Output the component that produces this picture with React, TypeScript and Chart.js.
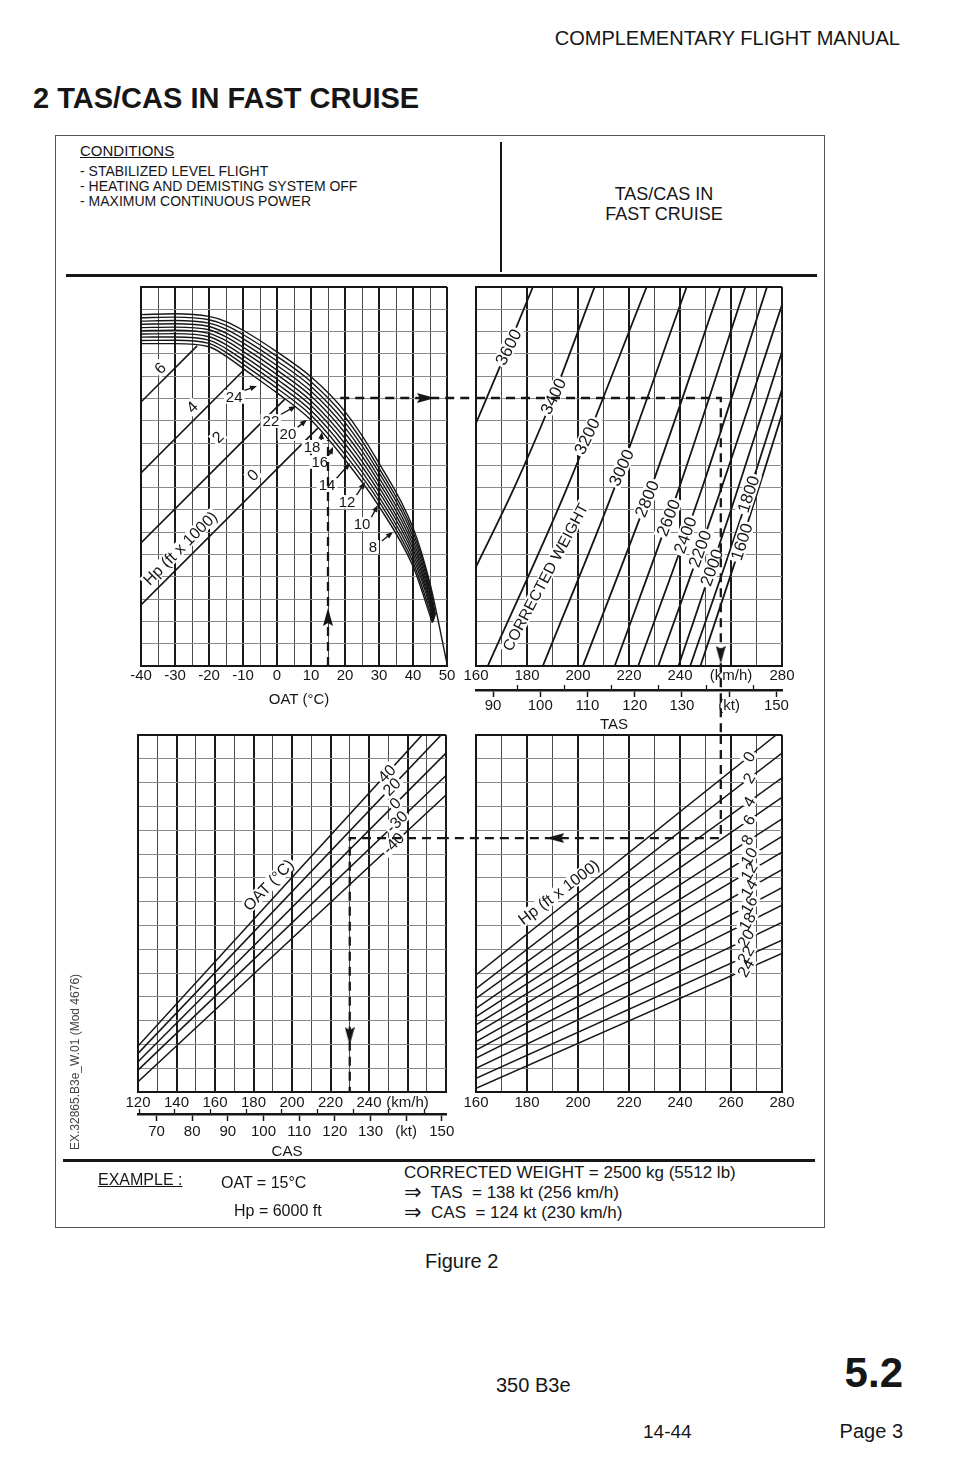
import React, { useEffect, useRef } from "react";
import { Chart, registerables } from "chart.js";

Chart.register(...registerables);

const FONT = "'Liberation Sans', Arial, Helvetica, sans-serif";
const INK = "#161616";
const GRID_MAJOR = "#1a1a1a";
const GRID_MINOR = "#4a4a4a";
const GRID_H = "#8a8a8a";
const KMH_PER_KT = 1.852;

type Pt = [number, number];

// ---------------- tick values ----------------
const OAT_TICKS = [-40, -35, -30, -25, -20, -15, -10, -5, 0, 5, 10, 15, 20, 25, 30, 35, 40, 45, 50];
const UPPER_LEVELS = [0, 1, 2, 3, 4, 5, 6, 7, 8, 9, 10, 11, 12, 13, 14, 15, 16, 17];
const LOWER_LEVELS = [0, 1, 2, 3, 4, 5, 6, 7, 8, 9, 10, 11, 12, 13, 14, 15];
const TAS_KMH_TICKS = [160, 170, 180, 190, 200, 210, 220, 230, 240, 250, 260, 270, 280];
const CAS_KMH_TICKS = [120, 130, 140, 150, 160, 170, 180, 190, 200, 210, 220, 230, 240, 250, 260, 270, 280];
const TAS_KT_TICKS = [90, 95, 100, 105, 110, 115, 120, 125, 130, 135, 140, 145, 150];
const CAS_KT_TICKS = [65, 70, 75, 80, 85, 90, 95, 100, 105, 110, 115, 120, 125, 130, 135, 140, 145, 150];
const KMH_UNIT_TICK = 260;
const KT_UNIT_TICK = 140;

// ---------------- top-left: OAT / Hp power curves ----------------
const HP_BUNDLE: Pt[][] = [
  [[-40, 15.76], [-30, 15.8], [-20, 15.68], [-15, 15.45], [-10, 15.06], [0, 14.09], [10, 12.97], [20, 11.41], [30, 9.1], [40, 6.2], [45, 3.7], [50, 0.1]],
  [[-40, 15.62], [-30, 15.65], [-20, 15.53], [-15, 15.28], [-10, 14.87], [0, 13.89], [10, 12.75], [20, 11.17], [30, 8.88], [40, 6.01], [45, 3.55], [46.6, 2.3]],
  [[-40, 15.47], [-30, 15.5], [-20, 15.38], [-15, 15.11], [-10, 14.68], [0, 13.68], [10, 12.54], [20, 10.93], [30, 8.67], [40, 5.82], [45, 3.4], [46.5, 2.25]],
  [[-40, 15.33], [-30, 15.35], [-20, 15.23], [-15, 14.93], [-10, 14.49], [0, 13.48], [10, 12.32], [20, 10.69], [30, 8.45], [40, 5.62], [45, 3.25], [46.4, 2.2]],
  [[-40, 15.18], [-30, 15.2], [-20, 15.08], [-15, 14.76], [-10, 14.3], [0, 13.27], [10, 12.11], [20, 10.45], [30, 8.24], [40, 5.43], [45, 3.1], [46.3, 2.15]],
  [[-40, 15.04], [-30, 15.06], [-20, 14.92], [-15, 14.59], [-10, 14.11], [0, 13.07], [10, 11.89], [20, 10.21], [30, 8.02], [40, 5.24], [45, 2.95], [46.2, 2.1]],
  [[-40, 14.89], [-30, 14.91], [-20, 14.77], [-15, 14.42], [-10, 13.92], [0, 12.86], [10, 11.68], [20, 9.97], [30, 7.81], [40, 5.05], [45, 2.8], [46.1, 2.05]],
  [[-40, 14.75], [-30, 14.76], [-20, 14.62], [-15, 14.24], [-10, 13.73], [0, 12.66], [10, 11.46], [20, 9.73], [30, 7.59], [40, 4.86], [45, 2.65], [46.0, 2.0]],
  [[-40, 14.6], [-30, 14.61], [-20, 14.47], [-15, 14.07], [-10, 13.54], [0, 12.46], [10, 11.25], [20, 9.49], [30, 7.38], [40, 4.66], [45, 2.45], [45.9, 1.97]],
  [[-40, 14.46], [-30, 14.46], [-20, 14.32], [-15, 13.9], [-10, 13.35], [0, 12.25], [10, 11.03], [20, 9.25], [30, 7.16], [40, 4.47], [45.7, 1.94]],
];
const HP_LOW_LINES: Pt[][] = [
  [[-40, 2.74], [12.0, 10.67]],
  [[-40, 5.52], [2.3, 11.97]],
  [[-40, 8.66], [-9.6, 13.3]],
  [[-40, 11.84], [-23.5, 14.36]],
];
const HP_BUNDLE_TIPS: Pt[] = [
  [-5.9, 12.56], [5.6, 11.66], [8.8, 11.04], [13.2, 10.5], [16.5, 9.83], [21.5, 9.11], [25.9, 8.25], [29.7, 7.22], [34.1, 6.01],
];
const HP_BUNDLE_NAMES = ["24", "22", "20", "18", "16", "14", "12", "10", "8"];
const HP_BUNDLE_LABEL_AT: Pt[] = [
  [-12.6, 12.07], [-1.8, 10.99], [3.2, 10.41], [10.3, 9.83], [12.6, 9.15], [14.7, 8.12], [20.6, 7.36], [25.0, 6.37], [28.2, 5.34],
];

// ---------------- top-right: corrected weight ----------------
const WEIGHT_NAMES = ["3600", "3400", "3200", "3000", "2800", "2600", "2400", "2200", "2000", "1800", "1600"];
const WEIGHT_CURVES: Pt[][] = [
  [[160, 10.89], [172.4, 14.25], [182.3, 17]],
  [[160, 4.45], [175, 8.0], [190, 12.0], [206.5, 17]],
  [[164.6, 0], [195, 7.8], [226.9, 17]],
  [[186.2, 0], [214, 7.9], [242.6, 17]],
  [[201.9, 0], [229, 8.1], [255.8, 17]],
  [[214.4, 0], [240, 8.1], [265.6, 17]],
  [[223.6, 0], [249, 8.1], [274.1, 17]],
  [[231.5, 0], [256, 7.9], [280, 16.2]],
  [[239.4, 0], [260, 7.0], [280, 14.1]],
  [[244, 0], [262, 6.0], [280, 12.4]],
  [[248, 0], [264, 5.5], [280, 11.3]],
];
const WEIGHT_LABEL_AT: Pt[] = [
  [172.7, 14.3], [190.3, 12.1], [203.5, 10.3], [217, 8.9], [227, 7.5], [235.4, 6.65], [242, 5.87], [247.8, 5.26], [252.4, 4.42], [266.8, 7.71], [264.2, 5.57],
];
const WEIGHT_LABEL_ROT = [-63, -64, -64, -66, -67, -68, -70, -70, -70, -72, -72];

// ---------------- bottom-right: TAS / Hp ----------------
const HP_TAS_NAMES = ["0", "2", "4", "6", "8", "10", "12", "14", "16", "18", "20", "22", "24"];
const HP_TAS_LINES: Pt[][] = [
  [[160, 4.92], [277.7, 15]],
  [[160, 4.34], [280, 14.24]],
  [[160, 3.93], [280, 13.2]],
  [[160, 3.51], [280, 12.38]],
  [[160, 3.17], [280, 11.48]],
  [[160, 2.82], [280, 10.74]],
  [[160, 2.47], [280, 10.08]],
  [[160, 2.12], [280, 9.34]],
  [[160, 1.76], [280, 8.59]],
  [[160, 1.42], [280, 7.85]],
  [[160, 0.99], [280, 7.12]],
  [[160, 0.57], [280, 6.38]],
  [[160, 0.15], [280, 5.82]],
];
const HP_TAS_LABEL_AT: Pt[] = [
  [267.1, 14.09], [267.1, 13.18], [267.1, 12.2], [267.1, 11.43], [266.4, 10.59], [267.1, 9.89], [267.1, 9.26],
  [267.1, 8.56], [267.1, 7.86], [266.4, 7.16], [265.8, 6.46], [265.8, 5.76], [265.8, 5.21],
];

// ---------------- bottom-left: CAS / OAT ----------------
const OAT_CAS_NAMES = ["40", "20", "0", "-30", "-40"];
const OAT_CAS_LINES: Pt[][] = [
  [[120, 1.93], [267.6, 15]],
  [[120, 1.62], [277.5, 15]],
  [[120, 1.27], [280, 14.24]],
  [[120, 0.92], [280, 13.3]],
  [[120, 0.43], [280, 12.48]],
];
const OAT_CAS_LABEL_AT: Pt[] = [[249.2, 13.39], [251.8, 12.83], [253.5, 12.13], [254.4, 11.36], [252.6, 10.45]];

// ---------------- worked example ----------------
const EX_OAT = 15;
const EX_TAS_KMH = 256;
const EX_CAS_KMH = 230;
const EX_UPPER_LEVEL = 12.02;
const EX_UPPER_START = 10.14;
const EX_UPPER_EXIT = 18.6;
const EX_LOWER_LEVEL = 10.67;

// ---------------- helpers ----------------
type Label = { t: string; at: Pt; r?: number; s?: number };
type Head = { at: Pt; rot: number };
type Curve = { pts: Pt[]; w?: number; smooth?: boolean };
type Rect = { left: number; top: number; width: number; height: number };
type Area = { left: number; top: number; right: number; bottom: number };
type KtAxis = { ticks: number[]; h: number; pad: number };
type PanelSpec = {
  canvas: Rect;
  area: Area;
  xMin: number; xMax: number; xTicks: number[]; xLabel: (v: number) => string; xMajor: (v: number) => boolean;
  xH: number; xPad: number;
  yMax: number; yTicks: number[];
  kt?: KtAxis;
  curves: Curve[];
  dashed: Pt[][];
  heads: Head[];
  labels: Label[];
  pointers?: { from: Pt; tip: Pt }[];
};

const toXY = (p: Pt[]) => p.map(([x, y]) => ({ x, y }));

function makeArrowHead(): HTMLCanvasElement {
  const c = document.createElement("canvas");
  c.width = 10;
  c.height = 18;
  const g = c.getContext("2d")!;
  g.fillStyle = INK;
  g.beginPath();
  g.moveTo(5, 0);
  g.lineTo(10, 18);
  g.lineTo(5, 15);
  g.lineTo(0, 18);
  g.closePath();
  g.fill();
  return c;
}

function drawOverlay(chart: any, spec: PanelSpec) {
  const ctx: CanvasRenderingContext2D = chart.ctx;
  const xs = chart.scales.x;
  const ys = chart.scales.y;
  ctx.save();
  if (spec.pointers) {
    ctx.strokeStyle = INK;
    ctx.fillStyle = INK;
    ctx.lineWidth = 1.4;
    for (const p of spec.pointers) {
      const fx = xs.getPixelForValue(p.from[0]) + 9;
      const fy = ys.getPixelForValue(p.from[1]) - 6;
      const tx = xs.getPixelForValue(p.tip[0]);
      const ty = ys.getPixelForValue(p.tip[1]);
      const ang = Math.atan2(ty - fy, tx - fx);
      ctx.beginPath();
      ctx.moveTo(fx, fy);
      ctx.lineTo(tx - Math.cos(ang) * 4, ty - Math.sin(ang) * 4);
      ctx.stroke();
      ctx.beginPath();
      ctx.moveTo(tx, ty);
      ctx.lineTo(tx - Math.cos(ang) * 7 + Math.sin(ang) * 2.8, ty - Math.sin(ang) * 7 - Math.cos(ang) * 2.8);
      ctx.lineTo(tx - Math.cos(ang) * 7 - Math.sin(ang) * 2.8, ty - Math.sin(ang) * 7 + Math.cos(ang) * 2.8);
      ctx.closePath();
      ctx.fill();
    }
  }
  for (const pass of [0, 1]) {
    for (const l of spec.labels) {
      const size = l.s ?? 15;
      ctx.save();
      ctx.translate(xs.getPixelForValue(l.at[0]), ys.getPixelForValue(l.at[1]));
      ctx.rotate(((l.r ?? 0) * Math.PI) / 180);
      ctx.font = `${size}px ${FONT}`;
      if (pass === 0) {
        const w = ctx.measureText(l.t).width;
        const h = size * 0.78;
        ctx.fillStyle = "#ffffff";
        ctx.fillRect(-w / 2 - 2, -h / 2 - 1, w + 4, h + 2);
      } else {
        ctx.fillStyle = INK;
        ctx.textAlign = "center";
        ctx.textBaseline = "middle";
        ctx.fillText(l.t, 0, 1);
      }
      ctx.restore();
    }
  }
  ctx.restore();
}

function drawMinorKt(chart: any, spec: PanelSpec) {
  const kt = chart.scales.kt;
  if (!kt || !spec.kt) return;
  const ctx: CanvasRenderingContext2D = chart.ctx;
  ctx.save();
  ctx.strokeStyle = INK;
  ctx.lineWidth = 1.3;
  for (const v of spec.kt.ticks) {
    if (v % 10 === 0) continue;
    const x = Math.round(kt.getPixelForValue(v)) + 0.5;
    ctx.beginPath();
    ctx.moveTo(x, kt.top);
    ctx.lineTo(x, kt.top - 5);
    ctx.stroke();
  }
  ctx.restore();
}

function buildConfig(spec: PanelSpec): any {
  const head = makeArrowHead();
  const c = spec.canvas;
  const a = spec.area;
  const bottomAxes = spec.xH + (spec.kt ? spec.kt.h : 0);
  const padding = {
    left: a.left - c.left,
    top: a.top - c.top,
    right: c.left + c.width - a.right,
    bottom: c.top + c.height - a.bottom - bottomAxes,
  };
  const datasets: any[] = [];
  for (const path of spec.dashed) {
    datasets.push({ data: toXY(path), borderColor: INK, borderWidth: 2.3, borderDash: [9, 6], pointRadius: 0, tension: 0, clip: false, overlay: true });
  }
  if (spec.heads.length) {
    datasets.push({
      data: spec.heads.map((h) => ({ x: h.at[0], y: h.at[1] })),
      showLine: false,
      pointStyle: head,
      pointRotation: spec.heads.map((h) => h.rot),
      pointRadius: 6,
      clip: false,
      overlay: true,
    });
  }
  for (const cv of spec.curves) {
    datasets.push({
      data: toXY(cv.pts),
      borderColor: INK,
      borderWidth: cv.w ?? 1.6,
      pointRadius: 0,
      tension: 0,
      cubicInterpolationMode: cv.smooth ? "monotone" : "default",
    });
  }
  const tickFont = { family: FONT, size: 15 };
  const scales: any = {
    x: {
      type: "linear",
      position: "bottom",
      weight: 0,
      min: spec.xMin,
      max: spec.xMax,
      afterBuildTicks: (s: any) => {
        s.ticks = spec.xTicks.map((v) => ({ value: v }));
      },
      afterFit: (s: any) => {
        s.height = spec.xH;
      },
      ticks: {
        autoSkip: false,
        maxRotation: 0,
        minRotation: 0,
        padding: spec.xPad,
        font: tickFont,
        color: INK,
        callback: (v: number) => spec.xLabel(v),
      },
      grid: {
        drawTicks: false,
        color: (ctx: any) => (ctx.tick && spec.xMajor(ctx.tick.value) ? GRID_MAJOR : GRID_MINOR),
        lineWidth: (ctx: any) => (ctx.tick && spec.xMajor(ctx.tick.value) ? 2 : 1),
      },
      border: { display: true, color: INK, width: 2 },
    },
    y: {
      type: "linear",
      position: "left",
      min: 0,
      max: spec.yMax,
      afterBuildTicks: (s: any) => {
        s.ticks = spec.yTicks.map((v) => ({ value: v }));
      },
      afterFit: (s: any) => {
        s.width = 0;
      },
      ticks: { display: false },
      grid: {
        drawTicks: false,
        color: (ctx: any) => (ctx.tick && ctx.tick.value === spec.yMax ? INK : GRID_H),
        lineWidth: (ctx: any) => (ctx.tick && ctx.tick.value === spec.yMax ? 2 : 1),
      },
      border: { display: true, color: INK, width: 2 },
    },
  };
  if (spec.kt) {
    const kt = spec.kt;
    scales.kt = {
      type: "linear",
      position: "bottom",
      weight: 1,
      min: spec.xMin / KMH_PER_KT,
      max: spec.xMax / KMH_PER_KT,
      afterBuildTicks: (s: any) => {
        s.ticks = kt.ticks.map((v) => ({ value: v }));
      },
      afterFit: (s: any) => {
        s.height = kt.h;
      },
      ticks: {
        autoSkip: false,
        maxRotation: 0,
        minRotation: 0,
        padding: kt.pad,
        font: tickFont,
        color: INK,
        callback: (v: number) => (v === KT_UNIT_TICK ? "(kt)" : v % 10 === 0 ? String(v) : ""),
      },
      grid: {
        drawOnChartArea: false,
        drawTicks: true,
        tickLength: 7,
        tickWidth: 1.5,
        tickColor: (ctx: any) => (ctx.tick && ctx.tick.value % 10 === 0 ? INK : "rgba(0,0,0,0)"),
      },
      border: { display: true, color: INK, width: 2.5 },
    };
  }
  let done = false;
  const plugin = {
    id: "panelOverlay",
    beforeDatasetsDraw() {
      done = false;
    },
    beforeDatasetDraw(chart: any, args: any) {
      const ds = chart.data.datasets[args.index];
      if (ds && ds.overlay && !done) {
        drawOverlay(chart, spec);
        done = true;
      }
    },
    afterDatasetsDraw(chart: any) {
      if (!done) {
        drawOverlay(chart, spec);
        done = true;
      }
      drawMinorKt(chart, spec);
    },
  };
  return {
    type: "line",
    data: { datasets },
    options: {
      responsive: false,
      maintainAspectRatio: false,
      animation: false,
      events: [],
      layout: { padding },
      plugins: { legend: { display: false }, tooltip: { enabled: false }, title: { display: false } },
      scales,
    },
    plugins: [plugin],
  };
}

// ---------------- panels ----------------
const TL: PanelSpec = {
  canvas: { left: 95, top: 268, width: 390, height: 452 },
  area: { left: 141, top: 287, right: 447, bottom: 666 },
  xMin: -40, xMax: 50, xTicks: OAT_TICKS,
  xLabel: (v) => (v % 10 === 0 ? String(v) : ""),
  xMajor: (v) => v % 10 === 0,
  xH: 30, xPad: 1,
  yMax: 17, yTicks: UPPER_LEVELS,
  curves: [
    ...HP_BUNDLE.map((p) => ({ pts: p, w: 1.4, smooth: true })),
    ...HP_LOW_LINES.map((p) => ({ pts: p, w: 1.6 })),
  ],
  dashed: [
    [[EX_OAT, 0], [EX_OAT, EX_UPPER_START]],
    [[EX_UPPER_EXIT, EX_UPPER_LEVEL], [58.5, EX_UPPER_LEVEL]],
  ],
  heads: [
    { at: [EX_OAT, 2.2], rot: 0 },
    { at: [43.8, EX_UPPER_LEVEL], rot: 90 },
  ],
  labels: [
    { t: "6", at: [-34.4, 13.37], r: -45, s: 16 },
    { t: "4", at: [-25, 11.62], r: -45, s: 16 },
    { t: "2", at: [-17.4, 10.27], r: -45, s: 16 },
    { t: "0", at: [-7.1, 8.57], r: -45, s: 16 },
    { t: "Hp (ft x 1000)", at: [-28.5, 5.29], r: -45, s: 16 },
    ...HP_BUNDLE_NAMES.map((t, i) => ({ t, at: HP_BUNDLE_LABEL_AT[i], s: 15 })),
  ],
  pointers: HP_BUNDLE_TIPS.map((tip, i) => ({ from: HP_BUNDLE_LABEL_AT[i], tip })),
};

const TR: PanelSpec = {
  canvas: { left: 455, top: 268, width: 360, height: 472 },
  area: { left: 476, top: 287, right: 782, bottom: 666 },
  xMin: 160, xMax: 280, xTicks: TAS_KMH_TICKS,
  xLabel: (v) => (v === KMH_UNIT_TICK ? "(km/h)" : v % 20 === 0 ? String(v) : ""),
  xMajor: (v) => v % 20 === 0,
  xH: 24, xPad: 1,
  yMax: 17, yTicks: UPPER_LEVELS,
  kt: { ticks: TAS_KT_TICKS, h: 30, pad: 0 },
  curves: WEIGHT_CURVES.map((p) => ({ pts: p, w: 1.8, smooth: true })),
  dashed: [[[160, EX_UPPER_LEVEL], [EX_TAS_KMH, EX_UPPER_LEVEL], [EX_TAS_KMH, -3.1]]],
  heads: [{ at: [EX_TAS_KMH, 0.5], rot: 180 }],
  labels: [
    ...WEIGHT_NAMES.map((t, i) => ({ t, at: WEIGHT_LABEL_AT[i], r: WEIGHT_LABEL_ROT[i], s: 17 })),
    { t: "CORRECTED WEIGHT", at: [187.1, 3.99], r: -62, s: 15.5 },
  ],
};

const BR: PanelSpec = {
  canvas: { left: 440, top: 718, width: 375, height: 412 },
  area: { left: 476, top: 735, right: 782, bottom: 1092 },
  xMin: 160, xMax: 280, xTicks: TAS_KMH_TICKS,
  xLabel: (v) => (v % 20 === 0 ? String(v) : ""),
  xMajor: (v) => v % 20 === 0,
  xH: 26, xPad: 2,
  yMax: 15, yTicks: LOWER_LEVELS,
  curves: HP_TAS_LINES.map((p) => ({ pts: p, w: 1.5 })),
  dashed: [[[EX_TAS_KMH, 15], [EX_TAS_KMH, EX_LOWER_LEVEL], [148.2, EX_LOWER_LEVEL]]],
  heads: [{ at: [191.1, EX_LOWER_LEVEL], rot: 270 }],
  labels: [
    ...HP_TAS_NAMES.map((t, i) => ({ t, at: HP_TAS_LABEL_AT[i], r: -60, s: 16 })),
    { t: "Hp (ft x 1000)", at: [192.4, 8.4], r: -37, s: 16 },
  ],
};

const BL: PanelSpec = {
  canvas: { left: 95, top: 718, width: 390, height: 432 },
  area: { left: 138, top: 735, right: 446, bottom: 1092 },
  xMin: 120, xMax: 280, xTicks: CAS_KMH_TICKS,
  xLabel: (v) => (v === KMH_UNIT_TICK ? "(km/h)" : v === 280 ? "" : v % 20 === 0 ? String(v) : ""),
  xMajor: (v) => v % 20 === 0,
  xH: 22, xPad: 2,
  yMax: 15, yTicks: LOWER_LEVELS,
  kt: { ticks: CAS_KT_TICKS, h: 30, pad: 2 },
  curves: OAT_CAS_LINES.map((p) => ({ pts: p, w: 1.6 })),
  dashed: [[[280, EX_LOWER_LEVEL], [EX_CAS_KMH, EX_LOWER_LEVEL], [EX_CAS_KMH, 0]]],
  heads: [{ at: [EX_CAS_KMH, 2.35], rot: 180 }],
  labels: [
    ...OAT_CAS_NAMES.map((t, i) => ({ t, at: OAT_CAS_LABEL_AT[i], r: -45, s: 16 })),
    { t: "OAT (°C)", at: [187.7, 8.7], r: -46, s: 16 },
  ],
};

const PANELS = [TL, TR, BL, BR];

function Panel({ spec }: { spec: PanelSpec }) {
  const ref = useRef<HTMLCanvasElement>(null);
  useEffect(() => {
    const chart = new Chart(ref.current as HTMLCanvasElement, buildConfig(spec));
    return () => chart.destroy();
  }, [spec]);
  const { left, top, width, height } = spec.canvas;
  return (
    <canvas
      ref={ref}
      width={width}
      height={height}
      style={{ position: "absolute", left, top, width, height }}
    />
  );
}

function Txt(props: {
  x: number; y: number; size: number; children: React.ReactNode;
  bold?: boolean; align?: "left" | "right" | "center"; underline?: boolean; pre?: boolean;
}) {
  const { x, y, size, children, bold, align = "left", underline, pre } = props;
  const style: any = {
    position: "absolute",
    top: y - 0.49 * size,
    fontSize: size,
    lineHeight: `${size}px`,
    fontWeight: bold ? 700 : 400,
    whiteSpace: pre ? "pre" : "nowrap",
    textDecoration: underline ? "underline" : "none",
  };
  if (align === "left") style.left = x;
  else if (align === "right") style.right = 968 - x;
  else {
    style.left = x;
    style.transform = "translateX(-50%)";
  }
  return <div style={style}>{children}</div>;
}

const box = (left: number, top: number, width: number, height: number, bg: string): React.CSSProperties => ({
  position: "absolute", left, top, width, height, background: bg,
});

const Arrow = () => <span style={{ fontSize: 21, fontFamily: "'DejaVu Sans', sans-serif", verticalAlign: "-1px" }}>⇒</span>;

export default function App() {
  return (
    <div
      style={{
        position: "absolute", left: 0, top: 0, width: 968, height: 1470,
        background: "#ffffff", color: INK, fontFamily: FONT, overflow: "hidden",
      }}
    >
      <Txt x={900} y={38} size={20} align="right">COMPLEMENTARY FLIGHT MANUAL</Txt>
      <Txt x={33} y={98} size={29} bold>2 TAS/CAS IN FAST CRUISE</Txt>

      <div style={{ position: "absolute", left: 55, top: 135, width: 770, height: 1093, border: "1.5px solid #555", boxSizing: "border-box" }} />
      <div style={box(500, 142, 2, 130, INK)} />
      <div style={box(66, 274, 751, 2.5, INK)} />
      <div style={box(63, 1159, 752, 2.5, INK)} />

      <Txt x={80} y={150} size={15} underline>CONDITIONS</Txt>
      <Txt x={80} y={171} size={14}>- STABILIZED LEVEL FLIGHT</Txt>
      <Txt x={80} y={186} size={14}>- HEATING AND DEMISTING SYSTEM OFF</Txt>
      <Txt x={80} y={201} size={14}>- MAXIMUM CONTINUOUS POWER</Txt>
      <Txt x={664} y={194} size={18} align="center">TAS/CAS IN</Txt>
      <Txt x={664} y={214} size={18} align="center">FAST CRUISE</Txt>

      {PANELS.map((p, i) => (
        <Panel key={i} spec={p} />
      ))}

      <Txt x={299} y={698} size={15} align="center">OAT (°C)</Txt>
      <Txt x={614} y={723} size={15} align="center">TAS</Txt>
      <Txt x={287} y={1150} size={15} align="center">CAS</Txt>

      <div
        style={{
          position: "absolute", left: 75, top: 1062, fontSize: 12, lineHeight: "12px", color: "#444",
          whiteSpace: "nowrap", transform: "translate(-50%, -50%) rotate(-90deg)",
        }}
      >
        EX.32865.B3e_W.01 (Mod 4676)
      </div>

      <Txt x={98} y={1180} size={16} underline>EXAMPLE :</Txt>
      <Txt x={221} y={1183} size={16}>OAT = 15°C</Txt>
      <Txt x={234} y={1211} size={16}>Hp = 6000 ft</Txt>
      <Txt x={404} y={1172} size={17} pre>CORRECTED WEIGHT = 2500 kg (5512 lb)</Txt>
      <Txt x={404} y={1192} size={17} pre><Arrow />{"  TAS  = 138 kt (256 km/h)"}</Txt>
      <Txt x={404} y={1212} size={17} pre><Arrow />{"  CAS  = 124 kt (230 km/h)"}</Txt>

      <Txt x={425} y={1261} size={20}>Figure 2</Txt>
      <Txt x={496} y={1385} size={20}>350 B3e</Txt>
      <Txt x={903} y={1373} size={42} bold align="right">5.2</Txt>
      <Txt x={643} y={1431} size={19}>14-44</Txt>
      <Txt x={903} y={1431} size={20} align="right">Page 3</Txt>
    </div>
  );
}
